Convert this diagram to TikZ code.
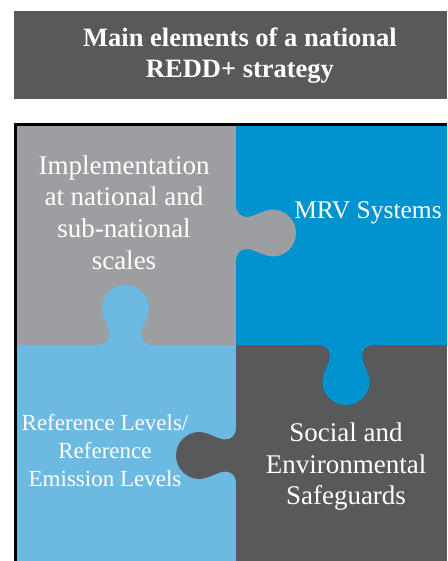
\documentclass[tikz,border=0pt]{standalone}
\usepackage{fontspec}
\setmainfont{Liberation Serif}
\definecolor{pgray}{HTML}{9D9EA2}
\definecolor{pblue}{HTML}{0093D0}
\definecolor{plight}{HTML}{6CB9E1}
\definecolor{pdark}{HTML}{58595B}
\begin{document}
\begin{tikzpicture}[x=1pt,y=1pt,
  lbl/.style={text=white, align=center, inner sep=0pt, font=\fontsize{27}{31.7}\selectfont},
  smalllbl/.style={lbl, font=\fontsize{23}{28}\selectfont},
  titlelbl/.style={text=white, align=center, inner sep=0pt, font=\fontsize{26.5}{31}\selectfont\bfseries},
  tab/.pic={\path[pic actions] (-27,-1.5) -- (-27,0)
      .. controls (-20,0) and (-16,5) .. (-16,11)
      .. controls (-16,18) and (-23.5,28) .. (-23.5,36.5)
      arc[start angle=180, end angle=0, radius=23.5]
      .. controls (23.5,28) and (16,18) .. (16,11)
      .. controls (16,5) and (20,0) .. (27,0) -- (27,-1.5) -- cycle;}]
\useasboundingbox (0,0) rectangle (447,561);
% title box
\fill[pdark] (14,462) rectangle (447,550);
\node[titlelbl, anchor=base] (title) at (240,483) {Main elements of a national\\REDD+ strategy};
% frame
\fill[black] (14,0) rectangle (447,438);
\fill[pgray] (16.7,216) rectangle (236,435);
\fill[pblue] (236,216) rectangle (447,435);
\fill[plight] (16.7,0) rectangle (236,216);
\fill[pdark] (236,0) rectangle (447,216);
% tabs
\pic[fill=pgray, rotate=-90] at (236,328) {tab};
\pic[fill=plight] at (125.5,216) {tab};
\pic[fill=pblue, rotate=180] at (346,216) {tab};
\pic[fill=pdark, rotate=90] at (236,105.5) {tab};
% labels
\node[lbl, anchor=base] (impl) at (124,291.7) {Implementation\\at national and\\sub-national\\scales};
\node[lbl, anchor=base, font=\fontsize{25.5}{30}\selectfont] (mrv) at (368,342.7) {MRV Systems};
\node[smalllbl, anchor=base] (ref) at (105,74.3) {Reference Levels/\\Reference\\Emission Levels};
\node[lbl, anchor=base] (safe) at (346,56) {Social and\\Environmental\\Safeguards};
\end{tikzpicture}
\end{document}
